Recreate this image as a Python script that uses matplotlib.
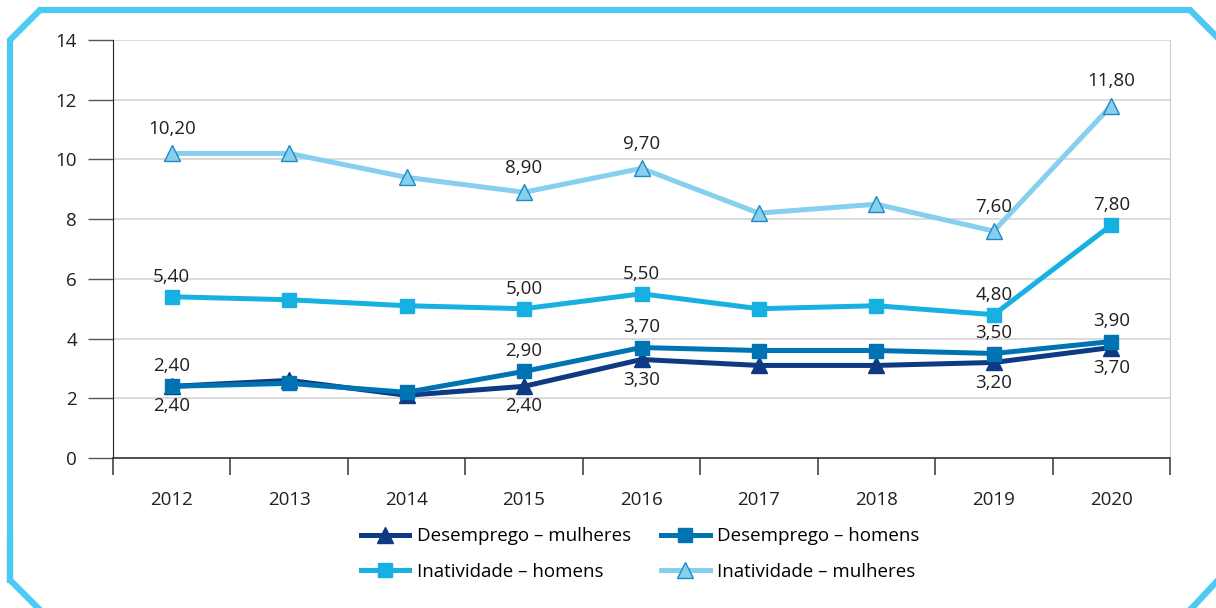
import matplotlib
matplotlib.use("Agg")
import matplotlib.pyplot as plt
from matplotlib.lines import Line2D
import numpy as np

plt.rcParams.update({
    "font.family": ["Open Sans", "DejaVu Sans"],
    "font.size": 13.5,
})

years = ["2012", "2013", "2014", "2015", "2016", "2017", "2018", "2019", "2020"]
desemp_mulheres = [2.40, 2.6, 2.1, 2.40, 3.30, 3.1, 3.1, 3.20, 3.70]
desemp_homens = [2.40, 2.5, 2.2, 2.90, 3.70, 3.6, 3.6, 3.50, 3.90]
inativ_homens = [5.40, 5.3, 5.1, 5.00, 5.50, 5.0, 5.1, 4.80, 7.80]
inativ_mulheres = [10.20, 10.20, 9.4, 8.90, 9.70, 8.2, 8.5, 7.60, 11.80]

# indices of points that carry a value label
labelled = [0, 3, 4, 7, 8]

C_DM = "#0d3a82"
C_DH = "#0074b3"
C_IH = "#16b1e2"
C_IM = "#86cfee"
FRAME = "#4ccaf2"
TXT = "#231f20"

fig = plt.figure(figsize=(12.16, 6.08), dpi=100)
ax = fig.add_axes([113 / 1216, 1 - 458 / 608, (1170 - 113) / 1216, (458 - 40) / 608])

x = np.arange(len(years))
lw = 3.6

l_im, = ax.plot(x, inativ_mulheres, color=C_IM, lw=lw, marker="^", ms=12,
                mfc=C_IM, mec="#1f8ac4", mew=1.0, zorder=3, label="Inatividade – mulheres")
l_ih, = ax.plot(x, inativ_homens, color=C_IH, lw=lw, marker="s", ms=10,
                mfc=C_IH, mec=C_IH, zorder=3, label="Inatividade – homens")
l_dm, = ax.plot(x, desemp_mulheres, color=C_DM, lw=lw, marker="^", ms=11,
                mfc=C_DM, mec=C_DM, zorder=4, label="Desemprego – mulheres")
l_dh, = ax.plot(x, desemp_homens, color=C_DH, lw=lw, marker="s", ms=10,
                mfc=C_DH, mec=C_DH, zorder=5, label="Desemprego – homens")

def fmt(v):
    return f"{v:.2f}".replace(".", ",")

for i in labelled:
    ax.annotate(fmt(inativ_mulheres[i]), (x[i], inativ_mulheres[i]), xytext=(0, 11),
                textcoords="offset points", ha="center", va="bottom", color=TXT)
    ax.annotate(fmt(inativ_homens[i]), (x[i], inativ_homens[i]), xytext=(0, 8),
                textcoords="offset points", ha="center", va="bottom", color=TXT)
    ax.annotate(fmt(desemp_homens[i]), (x[i], desemp_homens[i]), xytext=(0, 8),
                textcoords="offset points", ha="center", va="bottom", color=TXT)
    ax.annotate(fmt(desemp_mulheres[i]), (x[i], desemp_mulheres[i]), xytext=(0, -8),
                textcoords="offset points", ha="center", va="top", color=TXT)

ax.set_xlim(-0.5, len(years) - 0.5)
ax.set_ylim(0, 14)
ax.set_yticks(range(0, 15, 2))
ax.set_xticks(x)
ax.set_xticklabels(years)
ax.set_xticks(np.arange(-0.5, len(years), 1), minor=True)
ax.tick_params(axis="x", which="major", length=0, pad=24, labelcolor=TXT)
ax.tick_params(axis="x", which="minor", length=12, width=1.2, color="#444444")
ax.tick_params(axis="y", length=18, width=1.0, color="#555555", pad=8, labelcolor=TXT)

ax.grid(axis="y", color="#d4d4d4", lw=1.2, zorder=0)
ax.set_axisbelow(True)
ax.spines["top"].set_visible(False)
ax.spines["right"].set_color("#cccccc")
ax.spines["left"].set_color("#222222")
ax.spines["bottom"].set_color("#333333")
ax.spines["bottom"].set_linewidth(1.2)

# legend fills column by column, so order gives rows: DM DH / IH IM
handles = [l_dm, l_ih, l_dh, l_im]
fig.legend(handles=handles, labels=[h.get_label() for h in handles], ncol=2,
           loc="center", bbox_to_anchor=(640 / 1216, 1 - 554 / 608), frameon=False,
           handlelength=2.6, columnspacing=1.6, labelspacing=0.95, handletextpad=0.4,
           fontsize=13.5)

# chamfered frame around the chart
W, H = 1216, 608
fx = [10, 10, 40, 1190, 1216]
fy = [580, 40, 10, 10, 36]
fig.add_artist(Line2D([v / W for v in fx], [1 - v / H for v in fy], transform=fig.transFigure,
                      color=FRAME, lw=4.5, solid_joinstyle="miter"))
fig.add_artist(Line2D([10 / W, 10 / W, 40 / W], [1 - 540 / H, 1 - 580 / H, 1 - 610 / H],
                      transform=fig.transFigure, color=FRAME, lw=4.5, solid_joinstyle="miter"))
fig.add_artist(Line2D([1190 / W, 1220 / W], [1 - 610 / H, 1 - 578 / H],
                      transform=fig.transFigure, color=FRAME, lw=4.5))

fig.savefig("out.png", dpi=100)
